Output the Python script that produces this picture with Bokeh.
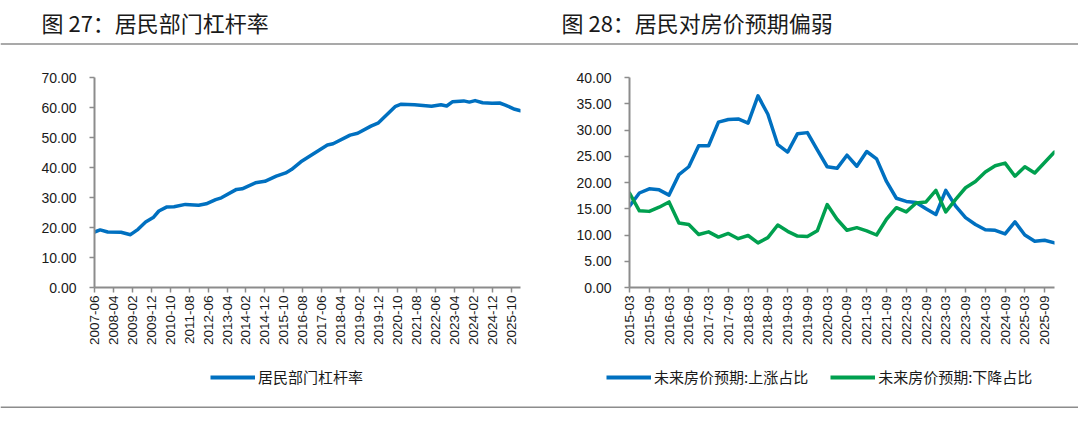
import math
import pandas as pd
from bokeh.plotting import figure
from bokeh.models import (Range1d, FixedTicker, NumeralTickFormatter, Legend, LegendItem, Span)
from bokeh.layouts import column, row
from bokeh.core.properties import value
from bokeh.embed import file_html
from bokeh.resources import INLINE

# ---------------- data ----------------
# Chart 27: household leverage ratio (monthly categories 2007-06 .. 2026-03)
lev_months = pd.date_range("2007-06-01", periods=226, freq="MS").strftime("%Y-%m").tolist()
lev_idx = [0, 3, 7, 14, 19, 23, 27, 31, 34, 38, 42, 48, 55, 59, 64, 67, 75, 78, 85, 90,
           96, 101, 104, 109, 114, 123, 126, 135, 139, 146, 150, 159, 162, 169, 178, 183,
           186, 189, 195, 198, 201, 205, 210, 214, 217, 222, 225]
lev_values = [18.5, 19.2, 18.5, 18.4, 17.6, 19.4, 21.8, 23.3, 25.5, 26.8, 26.9, 27.7, 27.4,
              27.9, 29.3, 29.9, 32.7, 32.9, 34.9, 35.4, 37.1, 38.2, 39.3, 41.9, 43.9, 47.5,
              47.9, 50.8, 51.4, 53.8, 54.9, 60.4, 61.1, 60.9, 60.4, 60.9, 60.5, 61.9, 62.2,
              61.8, 62.3, 61.6, 61.4, 61.5, 60.8, 59.4, 58.9]
lev_tick_step = 10
lev_yticks = [0, 10, 20, 30, 40, 50, 60, 70]

# Chart 28: house price expectations (quarterly 2015-03 .. 2025-12)
exp_quarters = pd.date_range("2015-03-01", periods=44, freq="3MS").strftime("%Y-%m").tolist()
exp_up = [15.5, 18.0, 18.8, 18.6, 17.6, 21.5, 23.0, 27.0, 27.0, 31.5, 32.0, 32.1, 31.3, 36.5,
          33.0, 27.2, 25.8, 29.3, 29.5, 26.2, 23.0, 22.7, 25.2, 23.1, 25.9, 24.5, 20.2, 17.0,
          16.4, 16.2, 15.0, 13.9, 18.5, 15.5, 13.3, 12.0, 11.0, 10.9, 10.2, 12.5, 10.0, 8.8,
          9.0, 8.5]
exp_down = [18.0, 14.6, 14.5, 15.3, 16.3, 12.3, 12.0, 10.1, 10.6, 9.6, 10.3, 9.3, 9.9, 8.5,
            9.5, 11.9, 10.7, 9.8, 9.7, 10.8, 15.8, 13.0, 10.9, 11.4, 10.8, 10.0, 13.0, 15.2,
            14.4, 16.1, 16.3, 18.5, 14.4, 16.8, 19.0, 20.2, 22.0, 23.2, 23.7, 21.2, 23.0, 21.8,
            23.8, 25.8]
exp_tick_step = 2
exp_yticks = [0, 5, 10, 15, 20, 25, 30, 35, 40]

title_left = "图 27：居民部门杠杆率"
title_right = "图 28：居民对房价预期偏弱"
name_lev = "居民部门杠杆率"
name_up = "未来房价预期:上涨占比"
name_down = "未来房价预期:下降占比"

BLUE = "#0070C0"
GREEN = "#00A04F"
AXIS = "#8c8c8c"
TXT = "#1a1a1a"
CJK = "Noto Sans CJK SC"

W_HALF = 539
W_TOTAL = 2 * W_HALF
NAN = float("nan")


def bare(p):
    p.grid.grid_line_color = None
    p.outline_line_color = None
    p.background_fill_alpha = 0
    p.border_fill_alpha = 0


def style_axes(p, labels, step):
    for ax in (p.xaxis[0], p.yaxis[0]):
        ax.axis_line_color = AXIS
        ax.axis_line_width = 2
        ax.major_tick_line_color = AXIS
        ax.major_tick_line_width = 1.5
        ax.major_tick_out = 5
        ax.major_tick_in = 0
        ax.minor_tick_line_color = None
        ax.major_label_text_color = TXT
    xa = p.xaxis[0]
    ticks = list(range(0, len(labels), step))
    xa.ticker = FixedTicker(ticks=ticks)
    xa.major_label_overrides = {t: labels[t] for t in ticks}
    xa.major_label_orientation = math.pi / 2
    xa.major_label_text_font = "Liberation Sans"
    xa.major_label_text_font_size = "13.5px"
    xa.major_label_standoff = 3
    ya = p.yaxis[0]
    ya.formatter = NumeralTickFormatter(format="0.00")
    ya.major_label_text_font = "Liberation Sans"
    ya.major_label_text_font_size = "14px"
    ya.major_label_standoff = 13
    p.xgrid.grid_line_color = None
    p.ygrid.grid_line_color = None
    p.outline_line_color = None


def make_legend(items, loc):
    lg = Legend(items=items, orientation="horizontal", location=loc)
    lg.label_text_font = CJK
    lg.label_text_font_size = "15px"
    lg.label_text_color = TXT
    lg.glyph_width = 45
    lg.glyph_height = 20
    lg.label_height = 20
    lg.label_standoff = 3
    lg.spacing = 22
    lg.padding = 0
    lg.margin = 0
    lg.border_line_color = None
    lg.background_fill_alpha = 0
    return lg


# ---------------- header (titles + rule) ----------------
HH = 46
head = figure(width=W_TOTAL, height=HH, output_backend="svg", toolbar_location=None,
              x_range=Range1d(0, W_TOTAL), y_range=Range1d(0, HH), min_border=0,
              x_axis_location=None, y_axis_location=None)
bare(head)
head.text(x=[41, 561], y=[HH - 21, HH - 21], text=[title_left, title_right],
          text_font=value(CJK), text_font_size="22px", text_color=TXT,
          text_baseline="middle", text_align="left")
head.add_layout(Span(location=2.5, dimension="width", line_color=AXIS, line_width=1.5))

# ---------------- charts ----------------
CH = 302
p1 = figure(width=W_HALF, height=CH, output_backend="svg", toolbar_location=None,
            x_range=Range1d(0, len(lev_months) - 1), y_range=Range1d(0, 70),
            min_border_left=94, min_border_right=19, min_border_top=31, min_border_bottom=60)
r1 = p1.line(lev_idx, lev_values, line_color=BLUE, line_width=3.5, line_join="round", line_cap="round")
style_axes(p1, lev_months, lev_tick_step)
p1.yaxis[0].ticker = FixedTicker(ticks=lev_yticks)

qx = list(range(len(exp_quarters)))
p2 = figure(width=W_HALF, height=CH, output_backend="svg", toolbar_location=None,
            x_range=Range1d(0, len(exp_quarters) - 1), y_range=Range1d(0, 40),
            min_border_left=90, min_border_right=24, min_border_top=31, min_border_bottom=60)
r_up = p2.line(qx, exp_up, line_color=BLUE, line_width=3.5, line_join="round", line_cap="round")
r_dn = p2.line(qx, exp_down, line_color=GREEN, line_width=3.5, line_join="round", line_cap="round")
style_axes(p2, exp_quarters, exp_tick_step)
p2.yaxis[0].ticker = FixedTicker(ticks=exp_yticks)

# ---------------- legend strip + bottom rule ----------------
LH = 61
leg = figure(width=W_TOTAL, height=LH, output_backend="svg", toolbar_location=None,
             x_range=Range1d(0, W_TOTAL), y_range=Range1d(0, LH), min_border=0,
             x_axis_location=None, y_axis_location=None)
bare(leg)
k_lev = leg.line([NAN], [NAN], line_color=BLUE, line_width=4)
k_up = leg.line([NAN], [NAN], line_color=BLUE, line_width=4)
k_dn = leg.line([NAN], [NAN], line_color=GREEN, line_width=4)
leg.add_layout(make_legend([LegendItem(label=name_lev, renderers=[k_lev])], (210, LH - 39)))
leg.add_layout(make_legend([LegendItem(label=name_up, renderers=[k_up]),
                            LegendItem(label=name_down, renderers=[k_dn])], (606, LH - 39)))
leg.add_layout(Span(location=2.3, dimension="width", line_color=AXIS, line_width=1.5))

layout = column(head, row(p1, p2), leg)
open("out.html", "w").write(file_html(layout, INLINE))
